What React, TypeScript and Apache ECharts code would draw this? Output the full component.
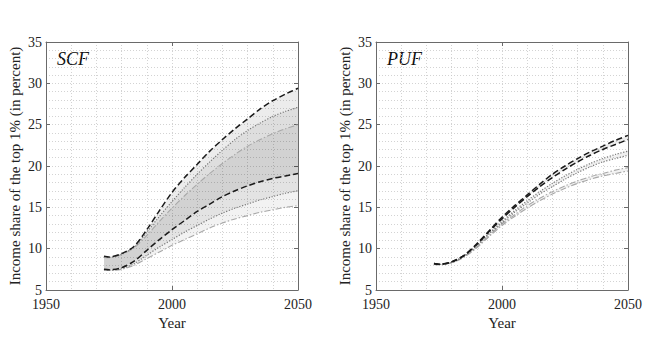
import React, { useEffect, useRef } from "react";
import * as echarts from "echarts";

const years = [1973, 1975, 1980, 1985, 1990, 1995, 2000, 2005, 2010, 2015, 2020, 2025, 2030, 2035, 2040, 2045, 2050];

// SCF panel
const scfUpperDashed = [9.1, 9.0, 9.4, 10.3, 12.3, 14.6, 16.8, 18.6, 20.2, 21.8, 23.2, 24.5, 25.7, 26.9, 27.9, 28.7, 29.4];
const scfUpperDotted = [9.0, 8.95, 9.35, 10.2, 12.0, 13.9, 15.7, 17.4, 19.0, 20.5, 21.9, 23.2, 24.3, 25.2, 26.0, 26.6, 27.1];
const scfUpperDashDot = [8.95, 8.9, 9.3, 10.1, 11.6, 13.3, 14.9, 16.4, 17.8, 19.1, 20.3, 21.4, 22.4, 23.2, 23.9, 24.5, 25.0];
const scfLowerDashed = [7.5, 7.45, 7.7, 8.5, 9.8, 11.1, 12.3, 13.4, 14.5, 15.4, 16.3, 17.0, 17.6, 18.1, 18.5, 18.8, 19.1];
const scfLowerDotted = [7.45, 7.4, 7.6, 8.2, 9.2, 10.2, 11.1, 12.0, 12.8, 13.6, 14.3, 14.9, 15.4, 15.9, 16.3, 16.7, 17.0];
const scfLowerDashDot = [7.4, 7.35, 7.5, 8.0, 8.8, 9.6, 10.4, 11.1, 11.8, 12.5, 13.1, 13.6, 14.0, 14.4, 14.7, 15.0, 15.2];

// PUF panel
const pufDashedA = [8.2, 8.1, 8.4, 9.2, 10.6, 12.2, 13.8, 15.2, 16.5, 17.8, 19.0, 20.0, 20.9, 21.7, 22.4, 23.1, 23.7];
const pufDashedB = [8.2, 8.1, 8.4, 9.2, 10.5, 12.1, 13.6, 15.0, 16.3, 17.5, 18.6, 19.6, 20.5, 21.3, 22.0, 22.6, 23.2];
const pufDottedA = [8.15, 8.1, 8.35, 9.1, 10.4, 11.9, 13.3, 14.6, 15.8, 16.9, 17.9, 18.8, 19.6, 20.3, 20.9, 21.4, 21.8];
const pufDottedB = [8.15, 8.1, 8.35, 9.1, 10.3, 11.8, 13.1, 14.4, 15.5, 16.6, 17.5, 18.4, 19.2, 19.9, 20.5, 20.9, 21.3];
const pufDashDotA = [8.1, 8.05, 8.3, 9.0, 10.2, 11.6, 13.0, 14.1, 15.2, 16.1, 16.9, 17.6, 18.2, 18.7, 19.1, 19.5, 19.8];
const pufDashDotB = [8.1, 8.05, 8.3, 9.0, 10.1, 11.5, 12.8, 13.9, 14.9, 15.8, 16.6, 17.3, 17.9, 18.4, 18.8, 19.1, 19.4];

const panelTitles = ["SCF", "PUF"];
const xTicks = { min: 1950, max: 2050, interval: 50 };
const yTicks = { min: 5, max: 35, interval: 5 };
const yName = "Income share of the top 1% (in percent)";
const xName = "Year";

const FONT = "'Liberation Serif', 'DejaVu Serif', serif";
const SMOOTH = 0.3;

const pairs = (vals: number[]) => years.map((y, i) => [y, vals[i]]);

const dashedStyle = { color: "#1a1a1a", width: 1.5, type: [6, 3] as number[] };
const dottedStyle = { color: "#7a7a7a", width: 1.2, type: [1.2, 1.6] as number[] };
const dashDotStyle = { color: "#a8a8a8", width: 1.1, type: [6, 2, 1.5, 2] as number[] };

function band(idx: number, hi: number[], lo: number[], opacity: number) {
  return {
    type: "custom",
    xAxisIndex: idx,
    yAxisIndex: idx,
    data: years.map((y, i) => [y, hi[i], lo[i]]),
    encode: { x: 0, y: [1, 2] },
    silent: true,
    z: 1,
    renderItem: (params: any, api: any) => {
      if (params.dataIndex !== 0) return null;
      const top = years.map((y, i) => api.coord([y, hi[i]]));
      const bottom = years.map((y, i) => api.coord([y, lo[i]])).reverse();
      return {
        type: "polygon",
        shape: { points: [...top, ...bottom] },
        style: { fill: "#000", opacity },
      };
    },
  };
}

function line(idx: number, vals: number[], style: any) {
  return {
    type: "line",
    xAxisIndex: idx,
    yAxisIndex: idx,
    data: pairs(vals),
    symbol: "none",
    smooth: SMOOTH,
    silent: true,
    lineStyle: style,
    z: 3,
  };
}

const frameColor = "#6a6a6a";
const gridLine = { show: true, lineStyle: { color: "#c8c8c8", width: 0.8, type: [1, 2] as number[] } };
const plain = (v: number) => String(v);

function xAxes(gridIndex: number) {
  return [
    {
      type: "value",
      gridIndex,
      position: "bottom",
      min: xTicks.min,
      max: xTicks.max,
      interval: xTicks.interval,
      name: xName,
      nameLocation: "middle",
      nameGap: 25,
      nameTextStyle: { fontFamily: FONT, fontSize: 15, color: "#222", verticalAlign: "top" },
      axisLine: { show: true, onZero: false, lineStyle: { color: frameColor, width: 1 } },
      axisTick: { show: true, inside: true, length: 4, lineStyle: { color: frameColor } },
      axisLabel: { fontFamily: FONT, fontSize: 14, color: "#222", margin: 7, lineHeight: 14, formatter: plain },
      splitLine: gridLine,
      minorTick: { show: false, splitNumber: 5 },
      minorSplitLine: gridLine,
    },
    {
      type: "value",
      gridIndex,
      position: "top",
      min: xTicks.min,
      max: xTicks.max,
      interval: xTicks.interval,
      axisLine: { show: true, onZero: false, lineStyle: { color: frameColor, width: 1 } },
      axisTick: { show: true, inside: true, length: 4, lineStyle: { color: frameColor } },
      axisLabel: { show: false },
      splitLine: { show: false },
    },
  ];
}

function yAxes(gridIndex: number) {
  return [
    {
      type: "value",
      gridIndex,
      position: "left",
      min: yTicks.min,
      max: yTicks.max,
      interval: yTicks.interval,
      name: yName,
      nameLocation: "middle",
      nameGap: 24,
      nameRotate: 90,
      nameTextStyle: { fontFamily: FONT, fontSize: 15, color: "#222" },
      axisLine: { show: true, onZero: false, lineStyle: { color: frameColor, width: 1 } },
      axisTick: { show: true, inside: true, length: 4, lineStyle: { color: frameColor } },
      axisLabel: { fontFamily: FONT, fontSize: 14, color: "#222", margin: 4, lineHeight: 12, formatter: plain },
      splitLine: gridLine,
      minorTick: { show: false, splitNumber: 5 },
      minorSplitLine: gridLine,
    },
    {
      type: "value",
      gridIndex,
      position: "right",
      min: yTicks.min,
      max: yTicks.max,
      interval: yTicks.interval,
      axisLine: { show: true, onZero: false, lineStyle: { color: frameColor, width: 1 } },
      axisTick: { show: true, inside: true, length: 4, lineStyle: { color: frameColor } },
      axisLabel: { show: false },
      splitLine: { show: false },
    },
  ];
}

export default function App() {
  const ref = useRef<HTMLDivElement>(null);
  useEffect(() => {
    if (!ref.current) return;
    const chart = echarts.init(ref.current, undefined, { renderer: "svg" });
    const grids = [
      { left: 46, top: 42, width: 252, height: 248 },
      { left: 376, top: 42, width: 252, height: 248 },
    ];
    // axis indices: 0 = left bottom/left, 1 = left top/right, 2 = right bottom/left, 3 = right top/right
    const xs = [...xAxes(0), ...xAxes(1)];
    const ys = [...yAxes(0), ...yAxes(1)];
    const series: any[] = [
      band(0, scfUpperDashed, scfLowerDashed, 0.075),
      band(0, scfUpperDotted, scfLowerDotted, 0.06),
      band(0, scfUpperDashDot, scfLowerDashDot, 0.05),
      line(0, scfUpperDashDot, dashDotStyle),
      line(0, scfLowerDashDot, dashDotStyle),
      line(0, scfUpperDotted, dottedStyle),
      line(0, scfLowerDotted, dottedStyle),
      line(0, scfUpperDashed, dashedStyle),
      line(0, scfLowerDashed, dashedStyle),
      band(2, pufDashedA, pufDashedB, 0.075),
      band(2, pufDottedA, pufDottedB, 0.06),
      band(2, pufDashDotA, pufDashDotB, 0.05),
      line(2, pufDashDotA, dashDotStyle),
      line(2, pufDashDotB, dashDotStyle),
      line(2, pufDottedA, dottedStyle),
      line(2, pufDottedB, dottedStyle),
      line(2, pufDashedA, dashedStyle),
      line(2, pufDashedB, dashedStyle),
    ];
    chart.setOption({
      animation: false,
      backgroundColor: "#fff",
      grid: grids,
      xAxis: xs,
      yAxis: ys,
      series,
      graphic: panelTitles.map((t, i) => ({
        type: "text",
        left: grids[i].left + 11,
        top: 50,
        style: {
          text: t,
          fontFamily: FONT,
          fontStyle: "italic",
          fontSize: 18,
          fill: "#111",
        },
      })),
    });
    return () => chart.dispose();
  }, []);
  return (
    <div
      ref={ref}
      style={{ position: "fixed", left: 0, top: 0, width: 648, height: 349 }}
    />
  );
}
